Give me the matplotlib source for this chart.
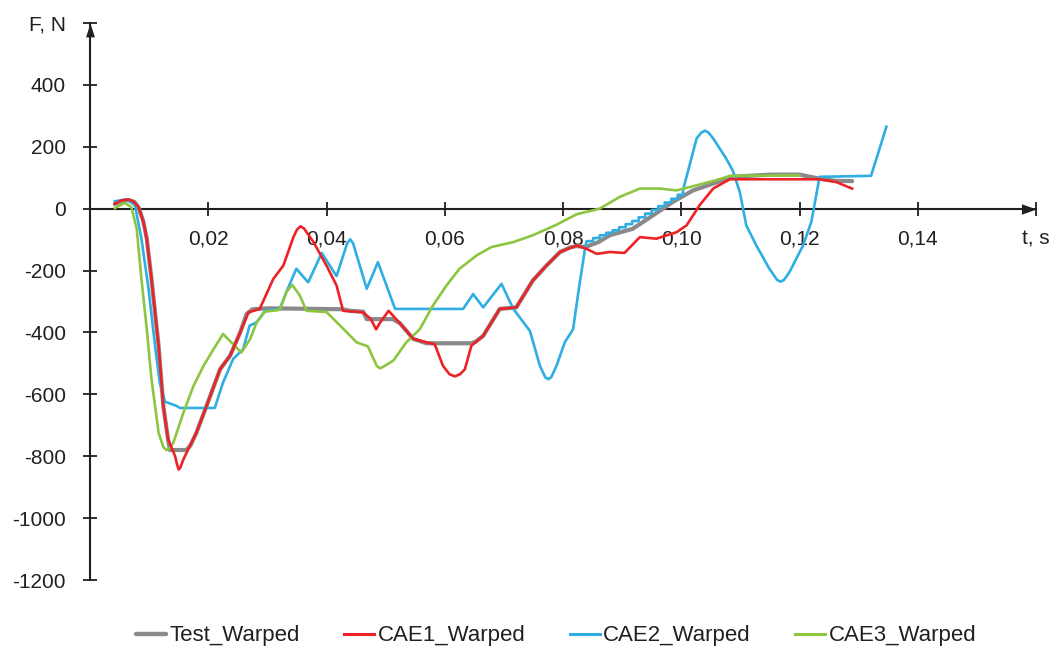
import numpy as np
import matplotlib
matplotlib.use("Agg")
import matplotlib.pyplot as plt

plt.rcParams["font.family"] = ["Liberation Sans", "DejaVu Sans"]

# ---- force traces (t in s, F in N) ----
test_t = [0.0042, 0.0055, 0.0065, 0.0075, 0.0082, 0.0090, 0.0096, 0.0104, 0.0116,
          0.0124, 0.0132, 0.0135, 0.0163, 0.0170, 0.0180, 0.0197, 0.0220, 0.0237,
          0.0254, 0.0265, 0.0275, 0.0300, 0.0428, 0.0440, 0.0462, 0.0468, 0.0512,
          0.0524, 0.0547, 0.0569, 0.0645, 0.0652, 0.0665, 0.0693, 0.0721, 0.0749,
          0.0772, 0.0795, 0.0812, 0.0823, 0.0838, 0.0860, 0.0879, 0.0918, 0.0952,
          0.0986, 0.1020, 0.1054, 0.1087, 0.1150, 0.1200, 0.1234, 0.1260, 0.1289]
test_f = [15, 25, 28, 22, 5, -40, -97, -227, -443,
          -638, -745, -780, -780, -765, -724, -638, -519, -475,
          -400, -340, -325, -322, -325, -330, -333, -357, -357,
          -370, -421, -435, -435, -430, -411, -324, -319, -232,
          -184, -140, -125, -121, -124, -108, -86, -65, -22,
          22, 59, 81, 103, 110, 110, 97, 90, 89]

cae1_t = [0.0042, 0.0052, 0.0065, 0.0074, 0.0082, 0.0090, 0.0096, 0.0104, 0.0116,
          0.0124, 0.0132, 0.0144, 0.0147, 0.0150, 0.0153, 0.0158, 0.0166, 0.0180,
          0.0197, 0.0220, 0.0237, 0.0254, 0.0268, 0.0287, 0.0310, 0.0327, 0.0344,
          0.0350, 0.0356, 0.0362, 0.0378, 0.0400, 0.0417, 0.0428, 0.0462, 0.0475,
          0.0484, 0.0490, 0.0505, 0.0524, 0.0547, 0.0569, 0.0583, 0.0597, 0.0608,
          0.0617, 0.0626, 0.0634, 0.0645, 0.0665, 0.0693, 0.0721, 0.0749, 0.0772,
          0.0795, 0.0823, 0.0840, 0.0857, 0.0879, 0.0904, 0.0930, 0.0958, 0.0992,
          0.1009, 0.1031, 0.1054, 0.1082, 0.1234, 0.1262, 0.1289]
cae1_f = [16, 26, 30, 22, 5, -40, -97, -227, -443,
          -638, -745, -800, -825, -843, -835, -810, -778, -724,
          -638, -519, -475, -400, -335, -324, -227, -184, -92,
          -68, -57, -64, -108, -184, -248, -330, -335, -357,
          -390, -370, -330, -370, -421, -432, -438, -508, -535,
          -542, -535, -519, -443, -411, -324, -319, -232, -184,
          -140, -119, -130, -146, -140, -143, -92, -97, -76,
          -54, 11, 65, 95, 95, 86, 65]

# staircase section of CAE2 (step start times and levels)
stair_t = [0.0840, 0.0851, 0.0862, 0.0873, 0.0884, 0.0895, 0.0906, 0.0917, 0.0928,
           0.0939, 0.0950, 0.0961, 0.0972, 0.0983, 0.0994, 0.1003]
stair_f = [-105, -95, -86, -78, -70, -60, -50, -40, -28,
           -16, -4, 8, 20, 32, 45, 60]

cae2_head_t = [0.0042, 0.0062, 0.0076, 0.0087, 0.0099, 0.0110, 0.0118, 0.0127, 0.0146,
               0.0152, 0.0211, 0.0225, 0.0242, 0.0259, 0.0270, 0.0282, 0.0296, 0.0321,
               0.0332, 0.0349, 0.0369, 0.0392, 0.0417, 0.0435, 0.0440, 0.0445, 0.0468,
               0.0487, 0.0516, 0.0631, 0.0648, 0.0665, 0.0696, 0.0716, 0.0744, 0.0761,
               0.0770, 0.0775, 0.0780, 0.0789, 0.0803, 0.0817, 0.0826, 0.0838]
cae2_head_f = [24, 30, 11, -97, -259, -443, -562, -624, -637,
               -644, -644, -562, -486, -454, -378, -367, -330, -324,
               -270, -194, -238, -143, -218, -112, -99, -112, -259,
               -173, -324, -324, -276, -319, -243, -324, -395, -508,
               -545, -551, -545, -508, -432, -390, -270, -119]
cae2_tail_t = [0.1014, 0.1026, 0.1034, 0.1040, 0.1046, 0.1054, 0.1076, 0.1087, 0.1099,
               0.1110, 0.1127, 0.1149, 0.1162, 0.1168, 0.1174, 0.1183, 0.1206, 0.1220,
               0.1234, 0.1321, 0.1347]
cae2_tail_f = [140, 227, 246, 252, 246, 227, 162, 124, 54,
               -54, -119, -194, -230, -236, -230, -205, -119, -43,
               103, 106, 265]

cae3_t = [0.0042, 0.0059, 0.0070, 0.0079, 0.0087, 0.0096, 0.0104, 0.0116, 0.0124,
          0.0129, 0.0134, 0.0141, 0.0158, 0.0175, 0.0192, 0.0209, 0.0225, 0.0242,
          0.0256, 0.0271, 0.0282, 0.0296, 0.0321, 0.0332, 0.0342, 0.0355, 0.0366,
          0.0400, 0.0423, 0.0451, 0.0470, 0.0485, 0.0490, 0.0495, 0.0513, 0.0535,
          0.0558, 0.0580, 0.0603, 0.0625, 0.0654, 0.0679, 0.0716, 0.0749, 0.0789,
          0.0823, 0.0862, 0.0896, 0.0930, 0.0963, 0.0992, 0.1031, 0.1059, 0.1082,
          0.1200]
cae3_f = [2, 19, 5, -65, -227, -389, -551, -724, -770,
          -780, -776, -756, -659, -573, -508, -454, -405, -438,
          -465, -421, -367, -333, -327, -270, -246, -281, -330,
          -334, -378, -432, -445, -508, -516, -512, -491, -432,
          -389, -313, -248, -194, -151, -124, -108, -86, -52,
          -18, 0, 38, 65, 65, 59, 78, 92, 106,
          108]

x_ticks = [0.0, 0.02, 0.04, 0.06, 0.08, 0.10, 0.12, 0.14, 0.16]
x_labels = ["", "0,02", "0,04", "0,06", "0,08", "0,10", "0,12", "0,14", "t, s"]
y_ticks = [-1200, -1000, -800, -600, -400, -200, 0, 200, 400, 600]
y_labels = ["-1200", "-1000", "-800", "-600", "-400", "-200", "0", "200", "400", "F, N"]

series_names = ["Test_Warped", "CAE1_Warped", "CAE2_Warped", "CAE3_Warped"]
series_colors = ["#8a8a8a", "#ec2227", "#2eaee3", "#8cc641"]

# assemble CAE2 with its stepped section
step_t = np.repeat(stair_t, 2)[1:]
step_f = np.repeat(stair_f, 2)[:-1]
cae2_t = np.concatenate([cae2_head_t, step_t, cae2_tail_t])
cae2_f = np.concatenate([cae2_head_f, step_f, cae2_tail_f])

# ---- figure ----
W, H = 1054, 651
fig = plt.figure(figsize=(W / 100, H / 100), dpi=100)
ax = fig.add_axes([90 / W, 1 - 580 / H, (1036 - 90) / W, (580 - 23) / H])
ax.set_xlim(0, 0.16)
ax.set_ylim(-1200, 600)

axis_color = "#231f20"
for s in ("top", "right"):
    ax.spines[s].set_visible(False)
ax.spines["bottom"].set_position(("data", 0))
for s in ("left", "bottom"):
    ax.spines[s].set_color(axis_color)
    ax.spines[s].set_linewidth(1.5)
    ax.spines[s].set_zorder(1)

ax.set_xticks(x_ticks)
ax.set_xticklabels(x_labels)
ax.set_yticks(y_ticks)
ax.set_yticklabels(y_labels)
ax.tick_params(axis="both", direction="inout", length=10, width=1.3,
               color=axis_color, labelcolor="#231f20", labelsize=15)
ax.tick_params(axis="x", pad=10)
ax.tick_params(axis="y", pad=12.5)

# arrowheads at the axis ends
ax.plot([0.16], [0], marker=[(0, 0), (-1, -0.36), (-1, 0.36)], markersize=21,
        color=axis_color, markeredgewidth=0, clip_on=False, zorder=5)
ax.plot([0], [600], marker=[(0, 0), (-0.32, -1), (0.32, -1)], markersize=20,
        color=axis_color, markeredgewidth=0, clip_on=False, zorder=5)

l0, = ax.plot(test_t, test_f, color=series_colors[0], lw=3.0, zorder=3,
              solid_capstyle="round", solid_joinstyle="round")
l1, = ax.plot(cae1_t, cae1_f, color=series_colors[1], lw=1.9, zorder=4,
              solid_joinstyle="round")
l2, = ax.plot(cae2_t, cae2_f, color=series_colors[2], lw=1.9, zorder=3.5,
              solid_joinstyle="round")
l3, = ax.plot(cae3_t, cae3_f, color=series_colors[3], lw=1.9, zorder=3.6,
              solid_joinstyle="round")
lines = [l0, l1, l2, l3]

leg = fig.legend(lines, series_names, loc="center", bbox_to_anchor=(556 / W, 1 - 636 / H),
                 ncol=4, frameon=False, fontsize=16, handlelength=1.35,
                 handletextpad=0.15, columnspacing=2.0)
for h, lw in zip(leg.get_lines(), [3.2, 2.2, 2.2, 2.2]):
    h.set_linewidth(lw)
for t in leg.get_texts():
    t.set_color("#231f20")

fig.savefig("out.png", dpi=100)
